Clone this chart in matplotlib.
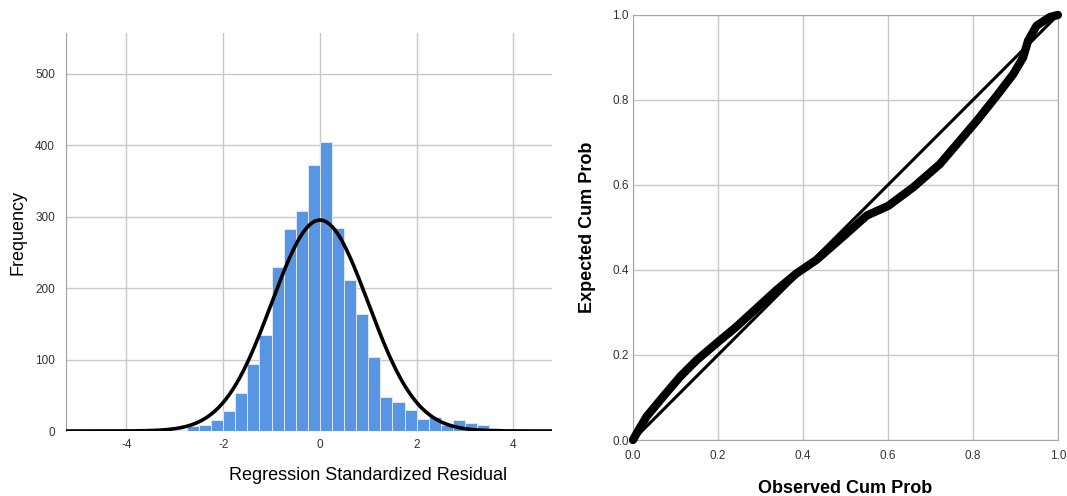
import numpy as np
import matplotlib
matplotlib.use('Agg')
import matplotlib.pyplot as plt

plt.rcParams['font.family'] = ['Liberation Sans', 'DejaVu Sans']
plt.rcParams['axes.unicode_minus'] = False

# histogram of standardized residuals (bin width 0.25)
bin_left = np.arange(-3.0, 4.5, 0.25)
counts = [2, 7, 9, 16, 28, 53, 94, 134, 229, 283, 308, 372, 405, 284, 212,
          164, 103, 48, 41, 29, 17, 20, 8, 16, 11, 9, 4, 2, 3, 1]
bin_width = 0.25
n_cases = 2960
resid_mean = 0.0
resid_sd = 1.0

# normal P-P plot points
observed = [0.0, 0.009, 0.032, 0.071, 0.111, 0.150, 0.197, 0.244, 0.291, 0.338,
            0.385, 0.432, 0.495, 0.550, 0.601, 0.660, 0.722, 0.769, 0.809,
            0.856, 0.895, 0.918, 0.930, 0.950, 0.981, 1.0]
expected = [0.0, 0.016, 0.055, 0.102, 0.149, 0.188, 0.228, 0.267, 0.310, 0.353,
            0.392, 0.424, 0.479, 0.528, 0.551, 0.595, 0.649, 0.704, 0.751,
            0.810, 0.861, 0.900, 0.940, 0.975, 0.995, 1.0]

grid_col = '#c8c8c8'
bar_col = '#5896e3'
tick_col = '#333333'

fig = plt.figure(figsize=(10.67, 4.96), dpi=100)

# ---- left: histogram with normal curve
ax1 = fig.add_axes([0.0619, 0.131, 0.4555, 0.8024])
ax1.bar(bin_left[:len(counts)], counts, width=bin_width, align='edge',
        color=bar_col, edgecolor='#dce8f8', linewidth=0.7, zorder=2)
xs = np.linspace(-5.25, 4.8, 400)
pdf = np.exp(-0.5 * ((xs - resid_mean) / resid_sd) ** 2) / (resid_sd * np.sqrt(2 * np.pi))
ax1.plot(xs, n_cases * bin_width * pdf, color='black', lw=2.6, zorder=3,
         solid_capstyle='butt')
ax1.set_xlim(-5.25, 4.8)
ax1.set_ylim(0, 557)
ax1.set_xticks([-4, -2, 0, 2, 4])
ax1.set_yticks([0, 100, 200, 300, 400, 500])
ax1.grid(True, color=grid_col, lw=1, zorder=0)
ax1.set_axisbelow(True)
for s in ['top', 'right', 'bottom']:
    ax1.spines[s].set_visible(False)
ax1.spines['left'].set_color('#a0a0a0')
ax1.tick_params(axis='y', length=0, labelsize=8.5, labelcolor=tick_col, pad=8)
ax1.tick_params(axis='x', length=0, labelsize=8.5, labelcolor=tick_col, pad=6)
ax1.set_xlabel('Regression Standardized Residual', fontsize=13)
ax1.xaxis.set_label_coords(0.621, -0.09)
ax1.set_ylabel('Frequency', fontsize=13)
ax1.yaxis.set_label_coords(-0.082, 0.5)

# ---- right: normal P-P plot
ax2 = fig.add_axes([0.5932, 0.1129, 0.3983, 0.8569])
ax2.plot([0, 1], [0, 1], color='black', lw=2.2, zorder=3)
ax2.plot(observed, expected, color='black', lw=6, solid_capstyle='round',
         solid_joinstyle='round', zorder=4, clip_on=False)
ax2.set_xlim(0, 1)
ax2.set_ylim(0, 1)
ticks = [0.0, 0.2, 0.4, 0.6, 0.8, 1.0]
ax2.set_xticks(ticks)
ax2.set_yticks(ticks)
ax2.set_xticklabels(['%.1f' % t for t in ticks])
ax2.set_yticklabels(['%.1f' % t for t in ticks])
ax2.grid(True, color=grid_col, lw=1, zorder=0)
ax2.set_axisbelow(True)
for s in ax2.spines.values():
    s.set_color('#a8a8a8')
ax2.tick_params(axis='x', length=0, labelsize=8.5, labelcolor=tick_col, pad=7)
ax2.tick_params(axis='y', length=0, labelsize=8.5, labelcolor=tick_col, pad=3)
ax2.set_xlabel('Observed Cum Prob', fontsize=13, fontweight='bold')
ax2.xaxis.set_label_coords(0.5, -0.095)
ax2.set_ylabel('Expected Cum Prob', fontsize=13, fontweight='bold')
ax2.yaxis.set_label_coords(-0.088, 0.5)

fig.savefig('out.png', dpi=100)
